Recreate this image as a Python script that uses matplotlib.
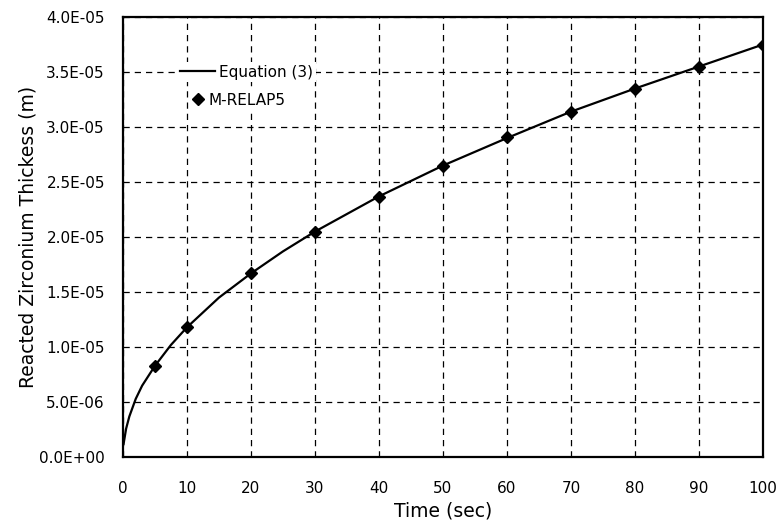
import matplotlib
matplotlib.use("Agg")
import matplotlib.pyplot as plt

plt.rcParams['font.family'] = ['DejaVu Sans']

# Equation (3) curve
eq_t = [0.1, 0.5, 1, 2, 3, 5, 7.5, 10, 15, 20, 25, 30, 40, 50, 60, 70, 80, 90, 100]
eq_y = [1.2e-6, 2.6e-6, 3.7e-6, 5.3e-6, 6.5e-6, 8.3e-6, 10.2e-6, 11.8e-6, 14.5e-6,
        16.7e-6, 18.7e-6, 20.5e-6, 23.7e-6, 26.5e-6, 29.0e-6, 31.4e-6, 33.5e-6,
        35.5e-6, 37.5e-6]

# M-RELAP5 points
m_t = [5, 10, 20, 30, 40, 50, 60, 70, 80, 90, 100]
m_y = [8.3e-6, 11.8e-6, 16.7e-6, 20.5e-6, 23.6e-6, 26.5e-6, 29.1e-6, 31.4e-6,
       33.5e-6, 35.5e-6, 37.5e-6]

x_ticks = [0, 10, 20, 30, 40, 50, 60, 70, 80, 90, 100]
y_ticks = [0, 5e-6, 1e-5, 1.5e-5, 2e-5, 2.5e-5, 3e-5, 3.5e-5, 4e-5]
y_labels = ['0.0E+00', '5.0E-06', '1.0E-05', '1.5E-05', '2.0E-05', '2.5E-05',
            '3.0E-05', '3.5E-05', '4.0E-05']

fig = plt.figure(figsize=(7.83, 5.31), dpi=100)
ax = fig.add_axes([0.157, 0.139, 0.8175, 0.829])

line, = ax.plot(eq_t, eq_y, color='black', lw=1.6, label='Equation (3)', zorder=3)
pts, = ax.plot(m_t, m_y, linestyle='none', marker='D', color='black', markersize=6.5,
               label='M-RELAP5', zorder=4)

ax.set_xlim(0, 100)
ax.set_ylim(0, 4e-5)
ax.set_xticks(x_ticks)
ax.set_yticks(y_ticks)
ax.set_yticklabels(y_labels)
ax.grid(True, color='black', linestyle=(0, (5, 4)), linewidth=0.9)
for s in ax.spines.values():
    s.set_linewidth(1.6)
    s.set_color('black')
ax.tick_params(axis='x', length=0, pad=17, labelsize=11)
ax.tick_params(axis='y', length=0, pad=13, labelsize=11)

ax.set_xlabel('Time (sec)', fontsize=13.5, labelpad=4)
ax.set_ylabel('Reacted Zirconium Thickess (m)', fontsize=13.5, labelpad=1)

legkw = dict(frameon=True, facecolor='white', edgecolor='none', framealpha=1,
             fancybox=False, fontsize=11, borderpad=0.15, borderaxespad=0)
leg1 = ax.legend(handles=[line], loc='center left', bbox_to_anchor=(0.085, 0.875),
                 handlelength=2.3, handletextpad=0.3, **legkw)
ax.add_artist(leg1)
ax.legend(handles=[pts], loc='center left', bbox_to_anchor=(0.104, 0.811),
          handlelength=0.8, handletextpad=0.3, **legkw)

fig.savefig('out.png', dpi=100)
